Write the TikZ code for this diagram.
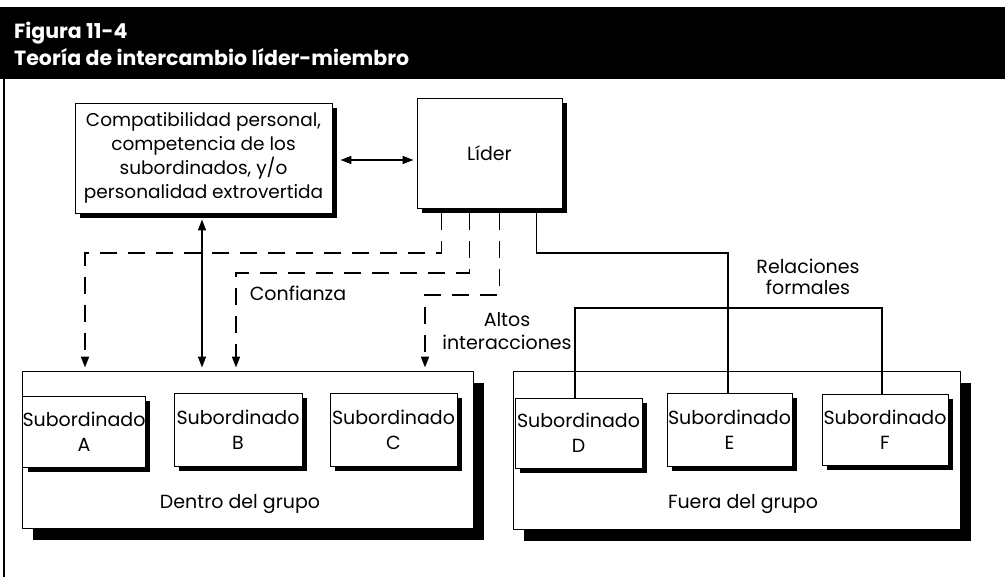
\documentclass[tikz,border=0pt]{standalone}
\usepackage{fontspec}
\setmainfont{Poppins}
\usetikzlibrary{arrows.meta,shadows}
\begin{document}
\begin{tikzpicture}[x=1pt,y=-1pt,
  >={Triangle[length=11pt,width=8pt]},
  txt/.style={font=\fontsize{19}{23}\selectfont, align=center, inner sep=0pt},
  boxbase/.style={draw=black, line width=0.9pt, fill=white, inner sep=0pt, align=center,
     font=\fontsize{19}{25}\selectfont},
  sbox/.style={boxbase, general shadow={fill=black, shadow xshift=5pt, shadow yshift=-5pt}},
  gbox/.style={boxbase, general shadow={fill=black, shadow xshift=11pt, shadow yshift=-12pt}},
  dline/.style={line width=1.8pt, dash pattern=on 17pt off 11pt, ->, shorten >=3pt},
  sline/.style={line width=1.6pt},
  dbl/.style={line width=1.6pt, <->},
  ttl/.style={anchor=base west, text=white, inner sep=0pt, font=\fontsize{20.5}{27}\selectfont\bfseries}
]
\useasboundingbox (0,0) rectangle (1005,577);
% header
\fill[black] (0,7) rectangle (1005,79);
\draw[line width=2pt] (4,7) -- (4,577);
\node[ttl] (title1) at (14,39) {Figura 11-4};
\node[ttl] (title2) at (14,66) {Teoría de intercambio líder-miembro};

% top boxes
\node[sbox, minimum width=257pt, minimum height=110pt, font=\fontsize{18.5}{24}\selectfont] (compat) at (203.5,158)
  {Compatibilidad personal,\\competencia de los\\subordinados, y/o\\personalidad extrovertida};
\node[sbox, minimum width=145pt, minimum height=110pt] (lider) at (489.5,153) {Líder};

% group boxes
\node[gbox, minimum width=451pt, minimum height=157pt] (g1) at (247.5,449.5) {};
\node[gbox, minimum width=447pt, minimum height=158pt] (g2) at (736.5,450) {};
\node[txt] (g1lab) at (240,504) {Dentro del grupo};
\node[txt] (g2lab) at (743,504) {Fuera del grupo};

% subordinates
\node[sbox, minimum width=122pt, minimum height=71pt] (A) at (84,431.5) {Subordinado\\A};
\node[sbox, minimum width=128pt, minimum height=73pt] (B) at (238,429.5) {Subordinado\\B};
\node[sbox, minimum width=127pt, minimum height=73pt] (C) at (393.5,429.5) {Subordinado\\C};
\node[sbox, minimum width=127pt, minimum height=70pt] (D) at (578.5,433) {Subordinado\\D};
\node[sbox, minimum width=125pt, minimum height=73pt] (E) at (729.5,429.5) {Subordinado\\E};
\node[sbox, minimum width=126pt, minimum height=71pt] (F) at (885,429.5) {Subordinado\\F};

% labels
\node[txt] (conf) at (298,293) {Confianza};
\node[txt] (altos) at (507,331) {Altos\\interacciones};
\node[txt, font=\fontsize{19}{21}\selectfont] (rel) at (808,277) {Relaciones\\formales};

% connectors
\draw[dbl, shorten <=8pt, shorten >=3pt] ([yshift=-2pt]compat.east) -- ([yshift=-2pt]compat.east -| lider.west);
\draw[dbl, shorten <=6pt, shorten >=3pt] (compat.south -| 202,0) -- (202,0 |- g1.north);

\coordinate (l1) at ([xshift=25pt]lider.south west);
\coordinate (l2) at ([xshift=53pt]lider.south west);
\coordinate (l3) at ([xshift=83pt]lider.south west);
\coordinate (l4) at ([xshift=120pt]lider.south west);

\draw[dline] ([yshift=-5pt]l1) |- (85,253) -- (85,0 |- g1.north);
\draw[dline] ([yshift=-5pt]l2) |- (236,273) -- (236,0 |- g1.north);
\draw[dline] ([yshift=-5pt]l3) |- (425,295) -- (425,0 |- g1.north);
\draw[sline] ([yshift=-5pt]l4) |- (728,253) -- (728,0 |- E.north);
\draw[sline] (575,0 |- D.north) -- (575,308) -- (882,308) -- (882,0 |- F.north);
\end{tikzpicture}
\end{document}
